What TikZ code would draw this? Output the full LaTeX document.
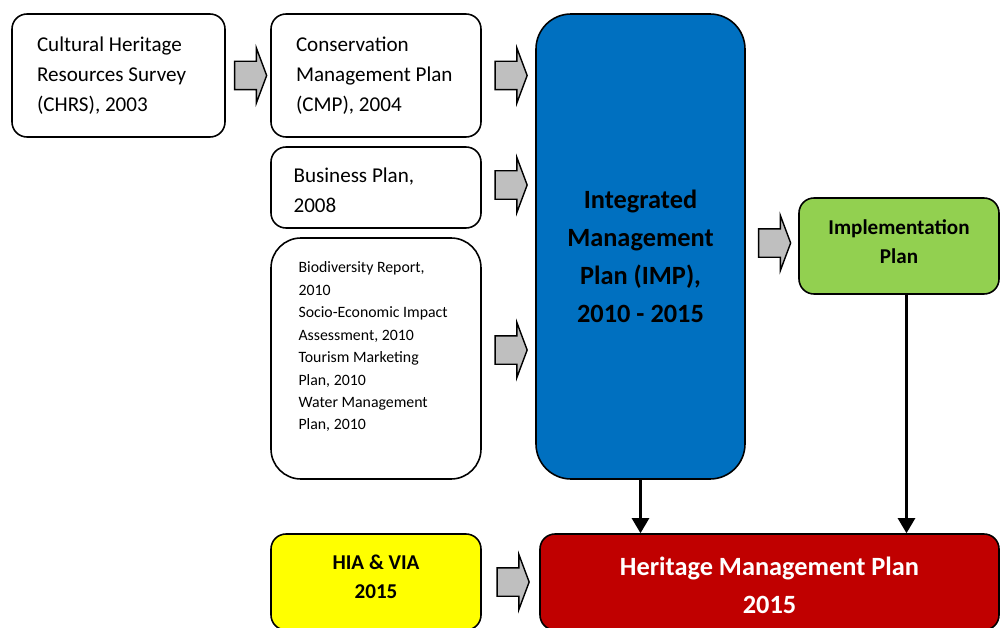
\documentclass[tikz,border=0pt]{standalone}
\usepackage{fontspec}
\setmainfont{Carlito}
\usetikzlibrary{positioning,shapes.arrows,arrows.meta,calc}
\definecolor{impblue}{RGB}{0,112,192}
\definecolor{implgreen}{RGB}{146,208,80}
\definecolor{hiayellow}{RGB}{255,255,0}
\definecolor{hmpred}{RGB}{192,0,0}
\tikzset{
  doc/.style   = {rectangle, draw, line width=0.9pt, rounded corners=0.3cm, align=flush left,
                  inner xsep=0.5cm, inner ysep=0pt, font=\fontsize{12}{17}\selectfont},
  plan/.style  = {rectangle, draw, line width=0.9pt, rounded corners=0.3cm, align=center,
                  inner sep=0pt, font=\bfseries\fontsize{12}{16.5}\selectfont},
  blk/.style   = {single arrow, draw, line width=0.8pt, fill=black!25, inner xsep=0pt,
                  inner ysep=0.27cm, minimum height=0.64cm,
                  single arrow head extend=0.27cm, single arrow tip angle=139},
  down/.style  = {-{Triangle[length=3mm,width=3.4mm]}, line width=1.4pt},
  small/.style = {align=flush left, inner sep=0pt, font=\fontsize{9}{12.8}\selectfont},
  big/.style   = {align=center, inner sep=0pt, font=\bfseries\fontsize{15}{21.5}\selectfont},
}

\begin{document}
\begin{tikzpicture}
  \useasboundingbox (0,0) rectangle (20,-12.56);

  % source documents
  \node[doc, minimum height=2.46cm, text width=3.26cm] (chrs) at (2.37,-1.51)
    {Cultural Heritage\\Resources Survey\\(CHRS), 2003};
  \node[doc, minimum height=2.46cm, text width=3.2cm] (cmp) at (7.52,-1.51)
    {Conservation\\Management Plan\\(CMP), 2004};
  \node[doc, minimum height=1.62cm, inner xsep=0.46cm, text width=3.28cm] (biz) at (7.52,-3.75) {};
  \node[small, font=\fontsize{12}{17}\selectfont, anchor=west] (biztxt) at ([xshift=0.46cm,yshift=-0.05cm]biz.west)
    {Business Plan,\\2008};
  \node[doc, minimum height=4.82cm, minimum width=4.2cm, rounded corners=0.6cm] (rep) at (7.52,-7.17) {};
  \node[small, below right=0.48cm and 0.56cm of rep.north west, anchor=north west] (reptxt)
    {Biodiversity Report,\\2010\\Socio-Economic Impact\\Assessment, 2010\\Tourism Marketing\\Plan, 2010\\Water Management\\Plan, 2010};

  % plans
  \node[plan, fill=impblue, rounded corners=0.7cm, minimum width=4.18cm, minimum height=9.3cm] (imp) at (12.81,-4.93) {};
  \node[big] (imptxt) at ([yshift=-0.2cm]imp.center) {Integrated\\Management\\Plan (IMP),\\2010 - 2015};
  \node[plan, fill=implgreen, minimum width=4.0cm, minimum height=1.92cm] (impl) at (17.98,-4.92) {};
  \node[plan, draw=none] (impltxt) at ([yshift=0.08cm]impl.center) {Implementation\\Plan};
  \node[plan, fill=hiayellow, minimum width=4.2cm, minimum height=1.92cm] (hia) at (7.52,-11.64) {};
  \node[plan, draw=none] (hiatxt) at ([yshift=0.1cm]hia.center) {HIA \& VIA\\2015};
  \node[plan, fill=hmpred, minimum width=9.18cm, minimum height=1.92cm] (hmp) at (15.39,-11.64) {};
  \node[big, text=white, font=\bfseries\fontsize{15}{21.6}\selectfont] (hmptxt) at ([yshift=-0.06cm]hmp.center)
    {Heritage Management Plan\\2015};

  % block arrows
  \node[blk] (ar1) at ($(chrs.east)!0.5!(cmp.west)$) {};
  \node[blk] (ar2) at ($(cmp.east)!0.5!(imp.west |- cmp.east)$) {};
  \node[blk] (ar3) at ($(biz.east)!0.5!(imp.west |- biz.east)+(0,0.05)$) {};
  \node[blk] (ar4) at ($(rep.east)!0.5!(imp.west |- rep.east)+(0,0.17)$) {};
  \node[blk] (ar5) at ($(imp.east |- impl.west)!0.5!(impl.west)+(0,0.06)$) {};
  \node[blk] (ar6) at ($(hia.east)!0.5!(hmp.west)$) {};

  % down arrows
  \draw[down] (imp.south) -- (imp.south |- hmp.north);
  \draw[down] ([xshift=0.15cm]impl.south) -- ([xshift=0.15cm]impl.south |- hmp.north);

\end{tikzpicture}
\end{document}
